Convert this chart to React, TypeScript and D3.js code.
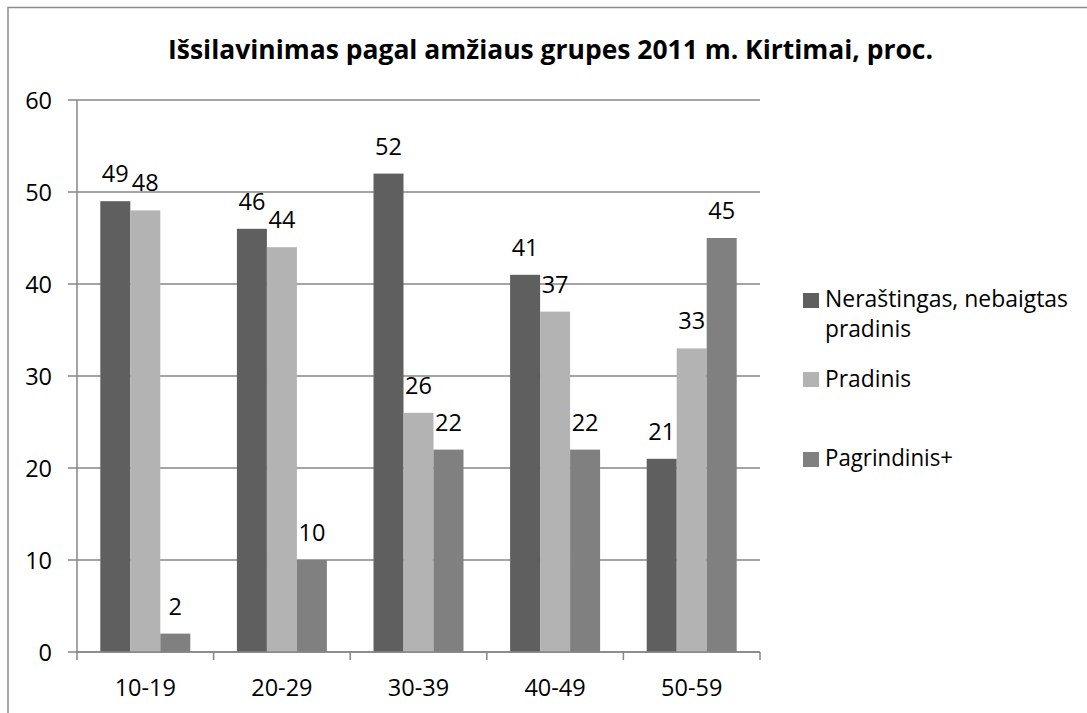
import React from "react";
import * as d3 from "d3";

const categories = ["10-19", "20-29", "30-39", "40-49", "50-59"];
const seriesNames = ["Neraštingas, nebaigtas pradinis", "Pradinis", "Pagrindinis+"];
const neraštingas = [49, 46, 52, 41, 21];
const pradinis = [48, 44, 26, 37, 33];
const pagrindinis = [2, 10, 22, 22, 45];
const yTicks = [0, 10, 20, 30, 40, 50, 60];
const colors = ["#5f5f5f", "#b3b3b3", "#808080"];
const title = "Išsilavinimas pagal amžiaus grupes 2011 m. Kirtimai, proc.";

const FONT = "'Open Sans', 'Liberation Sans', sans-serif";

export default function App() {
  const values = [neraštingas, pradinis, pagrindinis];
  const x0 = d3.scaleBand<string>().domain(categories).range([77, 760]).padding(0);
  const x1 = d3
    .scaleBand<number>()
    .domain([0, 1, 2])
    .range([0, x0.bandwidth()])
    .paddingInner(0)
    .paddingOuter(0.777);
  const y = d3.scaleLinear().domain([0, 60]).range([652, 100]);
  const grid = "#868686";
  const fs = 23.5;

  const legendItems = [
    { lines: ["Neraštingas, nebaigtas", "pradinis"], sq: 293, base: [307, 337], len: [243, 86] },
    { lines: ["Pradinis"], sq: 372, base: [387], len: [86] },
    { lines: ["Pagrindinis+"], sq: 452, base: [466], len: [128] },
  ];

  return (
    <svg
      width={1087}
      height={713}
      style={{ position: "absolute", left: 0, top: 0, display: "block" }}
      fontFamily={FONT}
    >
      <rect x={0} y={0} width={1087} height={713} fill="#fff" />
      <rect x={8} y={7.5} width={1200} height={800} fill="none" stroke="#8c8c8c" strokeWidth={1.5} />
      <text
        x={550.5}
        y={59}
        textAnchor="middle"
        fontWeight="bold"
        fontSize={27}
        textLength={765}
        lengthAdjust="spacingAndGlyphs"
        fill="#000"
      >
        {title}
      </text>

      {yTicks.map((t) => (
        <g key={t}>
          <line x1={68} x2={760} y1={y(t)} y2={y(t)} stroke={grid} strokeWidth={1.5} />
          <text x={52} y={y(t) + 8.5} textAnchor="end" fontSize={fs} fill="#000">
            {t}
          </text>
        </g>
      ))}

      {categories.map((c, ci) => (
        <g key={c}>
          {values.map((vals, si) => {
            const bx = (x0(c) as number) + (x1(si) as number);
            const v = vals[ci];
            return (
              <g key={si}>
                <rect x={bx} y={y(v)} width={x1.bandwidth()} height={y(0) - y(v)} fill={colors[si]} />
                <text x={bx + x1.bandwidth() / 2} y={y(v) - 19} textAnchor="middle" fontSize={fs} fill="#000">
                  {v}
                </text>
              </g>
            );
          })}
          <text x={(x0(c) as number) + x0.bandwidth() / 2} y={696} textAnchor="middle" fontSize={fs} fill="#000">
            {c}
          </text>
        </g>
      ))}

      <line x1={77} x2={77} y1={100} y2={652} stroke={grid} strokeWidth={1.5} />
      <line x1={77} x2={760} y1={652} y2={652} stroke={grid} strokeWidth={1.5} />
      {[...categories.map((c) => x0(c) as number), 760].map((tx, i) => (
        <line key={i} x1={tx} x2={tx} y1={652} y2={660} stroke={grid} strokeWidth={1.5} />
      ))}

      {legendItems.map((it, i) => (
        <g key={i}>
          <rect x={803} y={it.sq} width={16} height={15} fill={colors[i]} />
          {it.lines.map((ln, li) => (
            <text
              key={li}
              x={825}
              y={it.base[li]}
              fontSize={fs}
              textLength={it.len[li]}
              lengthAdjust="spacingAndGlyphs"
              fill="#000"
            >
              {ln}
            </text>
          ))}
        </g>
      ))}
      <desc>{seriesNames.join("; ")}</desc>
    </svg>
  );
}
